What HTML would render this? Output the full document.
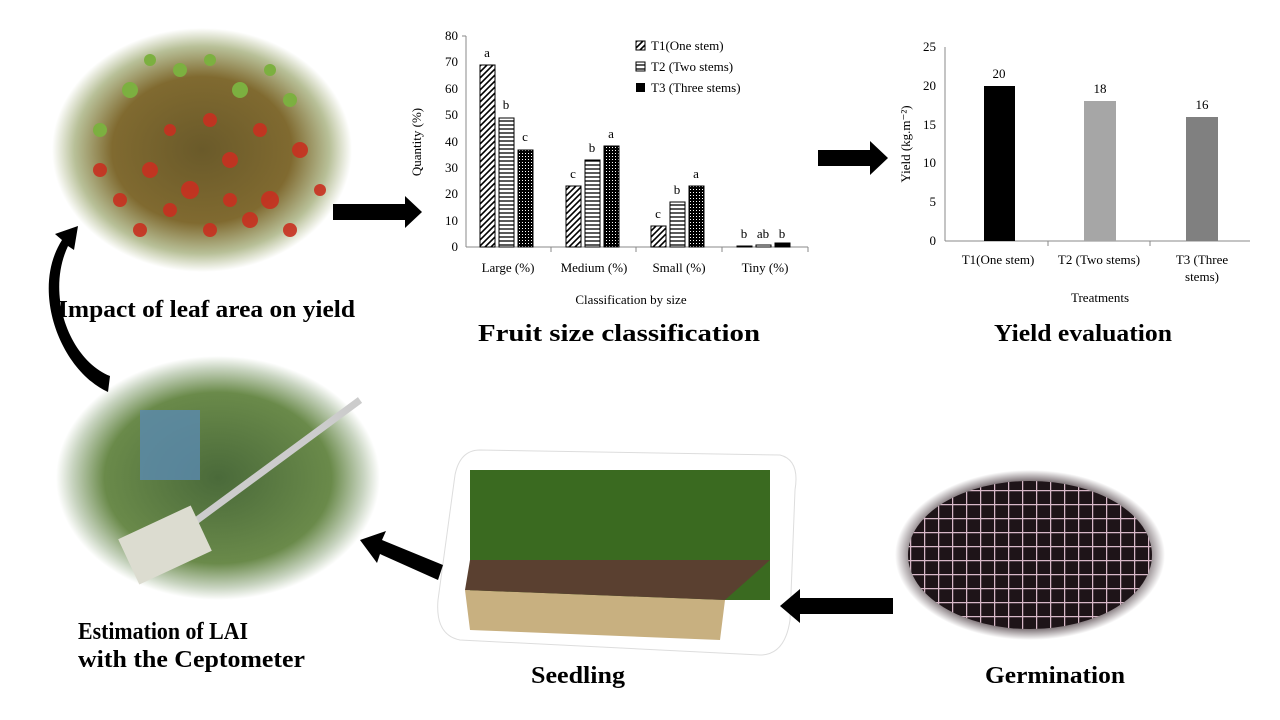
<!DOCTYPE html>
<html><head><meta charset="utf-8"><style>
body{margin:0;background:#fff;}
svg{display:block;}
.b{font-family:"Liberation Serif",serif;font-weight:bold;font-size:24px;fill:#000;}
.s{font-family:"Liberation Serif",serif;font-size:13px;fill:#000;}
</style></head><body>
<svg width="1280" height="720" viewBox="0 0 1280 720">
<defs>
<radialGradient id="tom" cx="50%" cy="50%" r="50%">
<stop offset="0" stop-color="#6a5a2a"/><stop offset="0.6" stop-color="#806a30"/><stop offset="0.85" stop-color="#b8c098"/><stop offset="1" stop-color="#fff"/></radialGradient>
<radialGradient id="cep" cx="50%" cy="50%" r="50%">
<stop offset="0" stop-color="#4a6a3a"/><stop offset="0.7" stop-color="#6a8a4a"/><stop offset="0.9" stop-color="#c8d4c0"/><stop offset="1" stop-color="#fff"/></radialGradient>
<radialGradient id="ger" cx="50%" cy="50%" r="50%">
<stop offset="0" stop-color="#2a1a20"/><stop offset="0.8" stop-color="#3a2a30"/><stop offset="1" stop-color="#fff"/></radialGradient>
<pattern id="grid" width="14" height="14" patternUnits="userSpaceOnUse"><rect width="14" height="14" fill="#1e1418"/><path d="M0 0H14M0 0V14" stroke="#d8b8c8" stroke-width="2.5"/></pattern>
<pattern id="diag" width="6" height="6" patternUnits="userSpaceOnUse"><rect width="6" height="6" fill="#fff"/><path d="M-1 7L7 -1M-1 1L1 -1M5 7L7 5" stroke="#000" stroke-width="1.6"/></pattern>
<pattern id="horz" width="4" height="4" patternUnits="userSpaceOnUse"><rect width="4" height="4" fill="#fff"/><path d="M0 1H4" stroke="#000" stroke-width="1.3"/></pattern>
<pattern id="dots" width="3" height="3" patternUnits="userSpaceOnUse"><rect width="3" height="3" fill="#000"/><rect width="1" height="1" fill="#fff"/></pattern>
</defs>

<!-- tomato photo -->
<ellipse cx="202" cy="150" rx="150" ry="122" fill="url(#tom)"/>
<g fill="#c83020" opacity="0.9">
<circle cx="150" cy="170" r="8"/><circle cx="190" cy="190" r="9"/><circle cx="230" cy="160" r="8"/><circle cx="270" cy="200" r="9"/><circle cx="120" cy="200" r="7"/><circle cx="300" cy="150" r="8"/><circle cx="170" cy="130" r="6"/><circle cx="250" cy="220" r="8"/><circle cx="210" cy="230" r="7"/>
<circle cx="100" cy="170" r="7"/><circle cx="140" cy="230" r="7"/><circle cx="290" cy="230" r="7"/><circle cx="320" cy="190" r="6"/><circle cx="210" cy="120" r="7"/><circle cx="260" cy="130" r="7"/><circle cx="170" cy="210" r="7"/><circle cx="230" cy="200" r="7"/></g>
<g fill="#7cb040"><circle cx="130" cy="90" r="8"/><circle cx="180" cy="70" r="7"/><circle cx="240" cy="90" r="8"/><circle cx="290" cy="100" r="7"/><circle cx="100" cy="130" r="7"/><circle cx="150" cy="60" r="6"/><circle cx="210" cy="60" r="6"/><circle cx="270" cy="70" r="6"/></g>

<!-- ceptometer photo -->
<ellipse cx="218" cy="478" rx="162" ry="122" fill="url(#cep)"/>
<rect x="140" y="410" width="60" height="70" fill="#5a8ab0" opacity="0.8"/>
<line x1="170" y1="540" x2="360" y2="400" stroke="#ccc" stroke-width="7"/>
<rect x="125" y="520" width="80" height="50" fill="#dcdcd0" transform="rotate(-25 165 545)"/>

<!-- seedling photo -->
<path d="M480 450 L780 455 Q800 460 795 490 L790 620 Q785 655 760 655 L460 640 Q435 635 438 600 L455 475 Q460 450 480 450Z" fill="#fff" stroke="#ddd"/>
<path d="M470 470 L770 470 L770 600 L470 600Z" fill="#3a6a20"/>
<path d="M465 590 L725 600 L720 640 L470 630Z" fill="#c8b080"/>
<path d="M470 560 L770 560 L725 600 L465 590Z" fill="#5a4030"/>

<!-- germination -->
<ellipse cx="1030" cy="555" rx="135" ry="85" fill="url(#ger)"/>
<ellipse cx="1030" cy="555" rx="122" ry="74" fill="url(#grid)"/>

<!-- arrows -->
<path d="M333 204 H405 V196 L422 212 L405 228 V220 H333Z" fill="#000"/>
<path d="M818 150 H870 V141 L888 158 L870 175 V166 H818Z" fill="#000"/>
<path d="M893 598 H800 V589 L780 606 L800 623 V614 H893Z" fill="#000"/>
<path d="M443 565 L382 540 L386 531 L360 540 L377 563 L380 554 L438 580Z" fill="#000"/>
<path d="M108 392 C60 370 30 290 62 240 L55 234 L78 226 L74 250 L68 246 C45 295 70 360 110 376Z" fill="#000"/>

<!-- chart 1 -->
<g class="s">
<line x1="466" y1="36" x2="466" y2="247" stroke="#888"/>
<line x1="466" y1="247" x2="808" y2="247" stroke="#888"/>
<g text-anchor="end">
<text x="458" y="251">0</text><text x="458" y="225">10</text><text x="458" y="198">20</text><text x="458" y="172">30</text><text x="458" y="146">40</text><text x="458" y="119">50</text><text x="458" y="93">60</text><text x="458" y="66">70</text><text x="458" y="40">80</text></g>
<g stroke="#888"><line x1="462" y1="36" x2="466" y2="36"/><line x1="551" y1="247" x2="551" y2="252"/><line x1="636" y1="247" x2="636" y2="252"/><line x1="722" y1="247" x2="722" y2="252"/><line x1="808" y1="247" x2="808" y2="252"/></g>
<g stroke="#000" stroke-width="1">
<rect x="480" y="65" width="15" height="182" fill="url(#diag)"/>
<rect x="499" y="118" width="15" height="129" fill="url(#horz)"/>
<rect x="518" y="150" width="15" height="97" fill="url(#dots)"/>
<rect x="566" y="186" width="15" height="61" fill="url(#diag)"/>
<rect x="585" y="160" width="15" height="87" fill="url(#horz)"/>
<rect x="604" y="146" width="15" height="101" fill="url(#dots)"/>
<rect x="651" y="226" width="15" height="21" fill="url(#diag)"/>
<rect x="670" y="202" width="15" height="45" fill="url(#horz)"/>
<rect x="689" y="186" width="15" height="61" fill="url(#dots)"/>
<rect x="737" y="246" width="15" height="1" fill="#000"/>
<rect x="756" y="245" width="15" height="2" fill="#fff"/>
<rect x="775" y="243" width="15" height="4" fill="#000"/></g>
<g text-anchor="middle">
<text x="487" y="57">a</text><text x="506" y="109">b</text><text x="525" y="141">c</text>
<text x="573" y="178">c</text><text x="592" y="152">b</text><text x="611" y="138">a</text>
<text x="658" y="218">c</text><text x="677" y="194">b</text><text x="696" y="178">a</text>
<text x="744" y="238">b</text><text x="763" y="238">ab</text><text x="782" y="238">b</text>
<text x="508" y="272">Large  (%)</text><text x="594" y="272">Medium (%)</text><text x="679" y="272">Small  (%)</text><text x="765" y="272">Tiny (%)</text>
<text x="631" y="304">Classification by size</text></g>
<text transform="translate(421 142) rotate(-90)" text-anchor="middle">Quantity (%)</text>
<rect x="636" y="41" width="9" height="9" fill="url(#diag)" stroke="#000"/><text x="651" y="50">T1(One stem)</text>
<rect x="636" y="62" width="9" height="9" fill="url(#horz)" stroke="#000"/><text x="651" y="71">T2 (Two stems)</text>
<rect x="636" y="83" width="9" height="9" fill="#000"/><text x="651" y="92">T3 (Three stems)</text>
</g>

<!-- chart 2 -->
<g class="s">
<line x1="945" y1="47" x2="945" y2="241" stroke="#888"/>
<line x1="945" y1="241" x2="1250" y2="241" stroke="#888"/>
<g text-anchor="end"><text x="936" y="245">0</text><text x="936" y="206">5</text><text x="936" y="167">10</text><text x="936" y="129">15</text><text x="936" y="90">20</text><text x="936" y="51">25</text></g>
<g stroke="#888"><line x1="1048" y1="241" x2="1048" y2="246"/><line x1="1150" y1="241" x2="1150" y2="246"/></g>
<rect x="984" y="86" width="31" height="155" fill="#000"/>
<rect x="1084" y="101" width="32" height="140" fill="#a6a6a6"/>
<rect x="1186" y="117" width="32" height="124" fill="#808080"/>
<g text-anchor="middle"><text x="999" y="78">20</text><text x="1100" y="93">18</text><text x="1202" y="109">16</text>
<text x="998" y="264">T1(One stem)</text><text x="1099" y="264">T2 (Two stems)</text><text x="1202" y="264">T3 (Three</text><text x="1202" y="281">stems)</text>
<text x="1100" y="302">Treatments</text></g>
<text transform="translate(910 144) rotate(-90)" text-anchor="middle">Yield (kg.m⁻²)</text>
</g>

<!-- titles -->
<text class="b" x="58" y="317" textLength="297" lengthAdjust="spacingAndGlyphs">Impact of leaf area on yield</text>
<text class="b" x="478" y="341" textLength="282" lengthAdjust="spacingAndGlyphs">Fruit size classification</text>
<text class="b" x="994" y="341" textLength="178" lengthAdjust="spacingAndGlyphs">Yield evaluation</text>
<text class="b" x="78" y="639" textLength="170" lengthAdjust="spacingAndGlyphs">Estimation of LAI</text>
<text class="b" x="78" y="667" textLength="227" lengthAdjust="spacingAndGlyphs">with the Ceptometer</text>
<text class="b" x="531" y="683" textLength="94" lengthAdjust="spacingAndGlyphs">Seedling</text>
<text class="b" x="985" y="683" textLength="140" lengthAdjust="spacingAndGlyphs">Germination</text>
</svg>
</body></html>
